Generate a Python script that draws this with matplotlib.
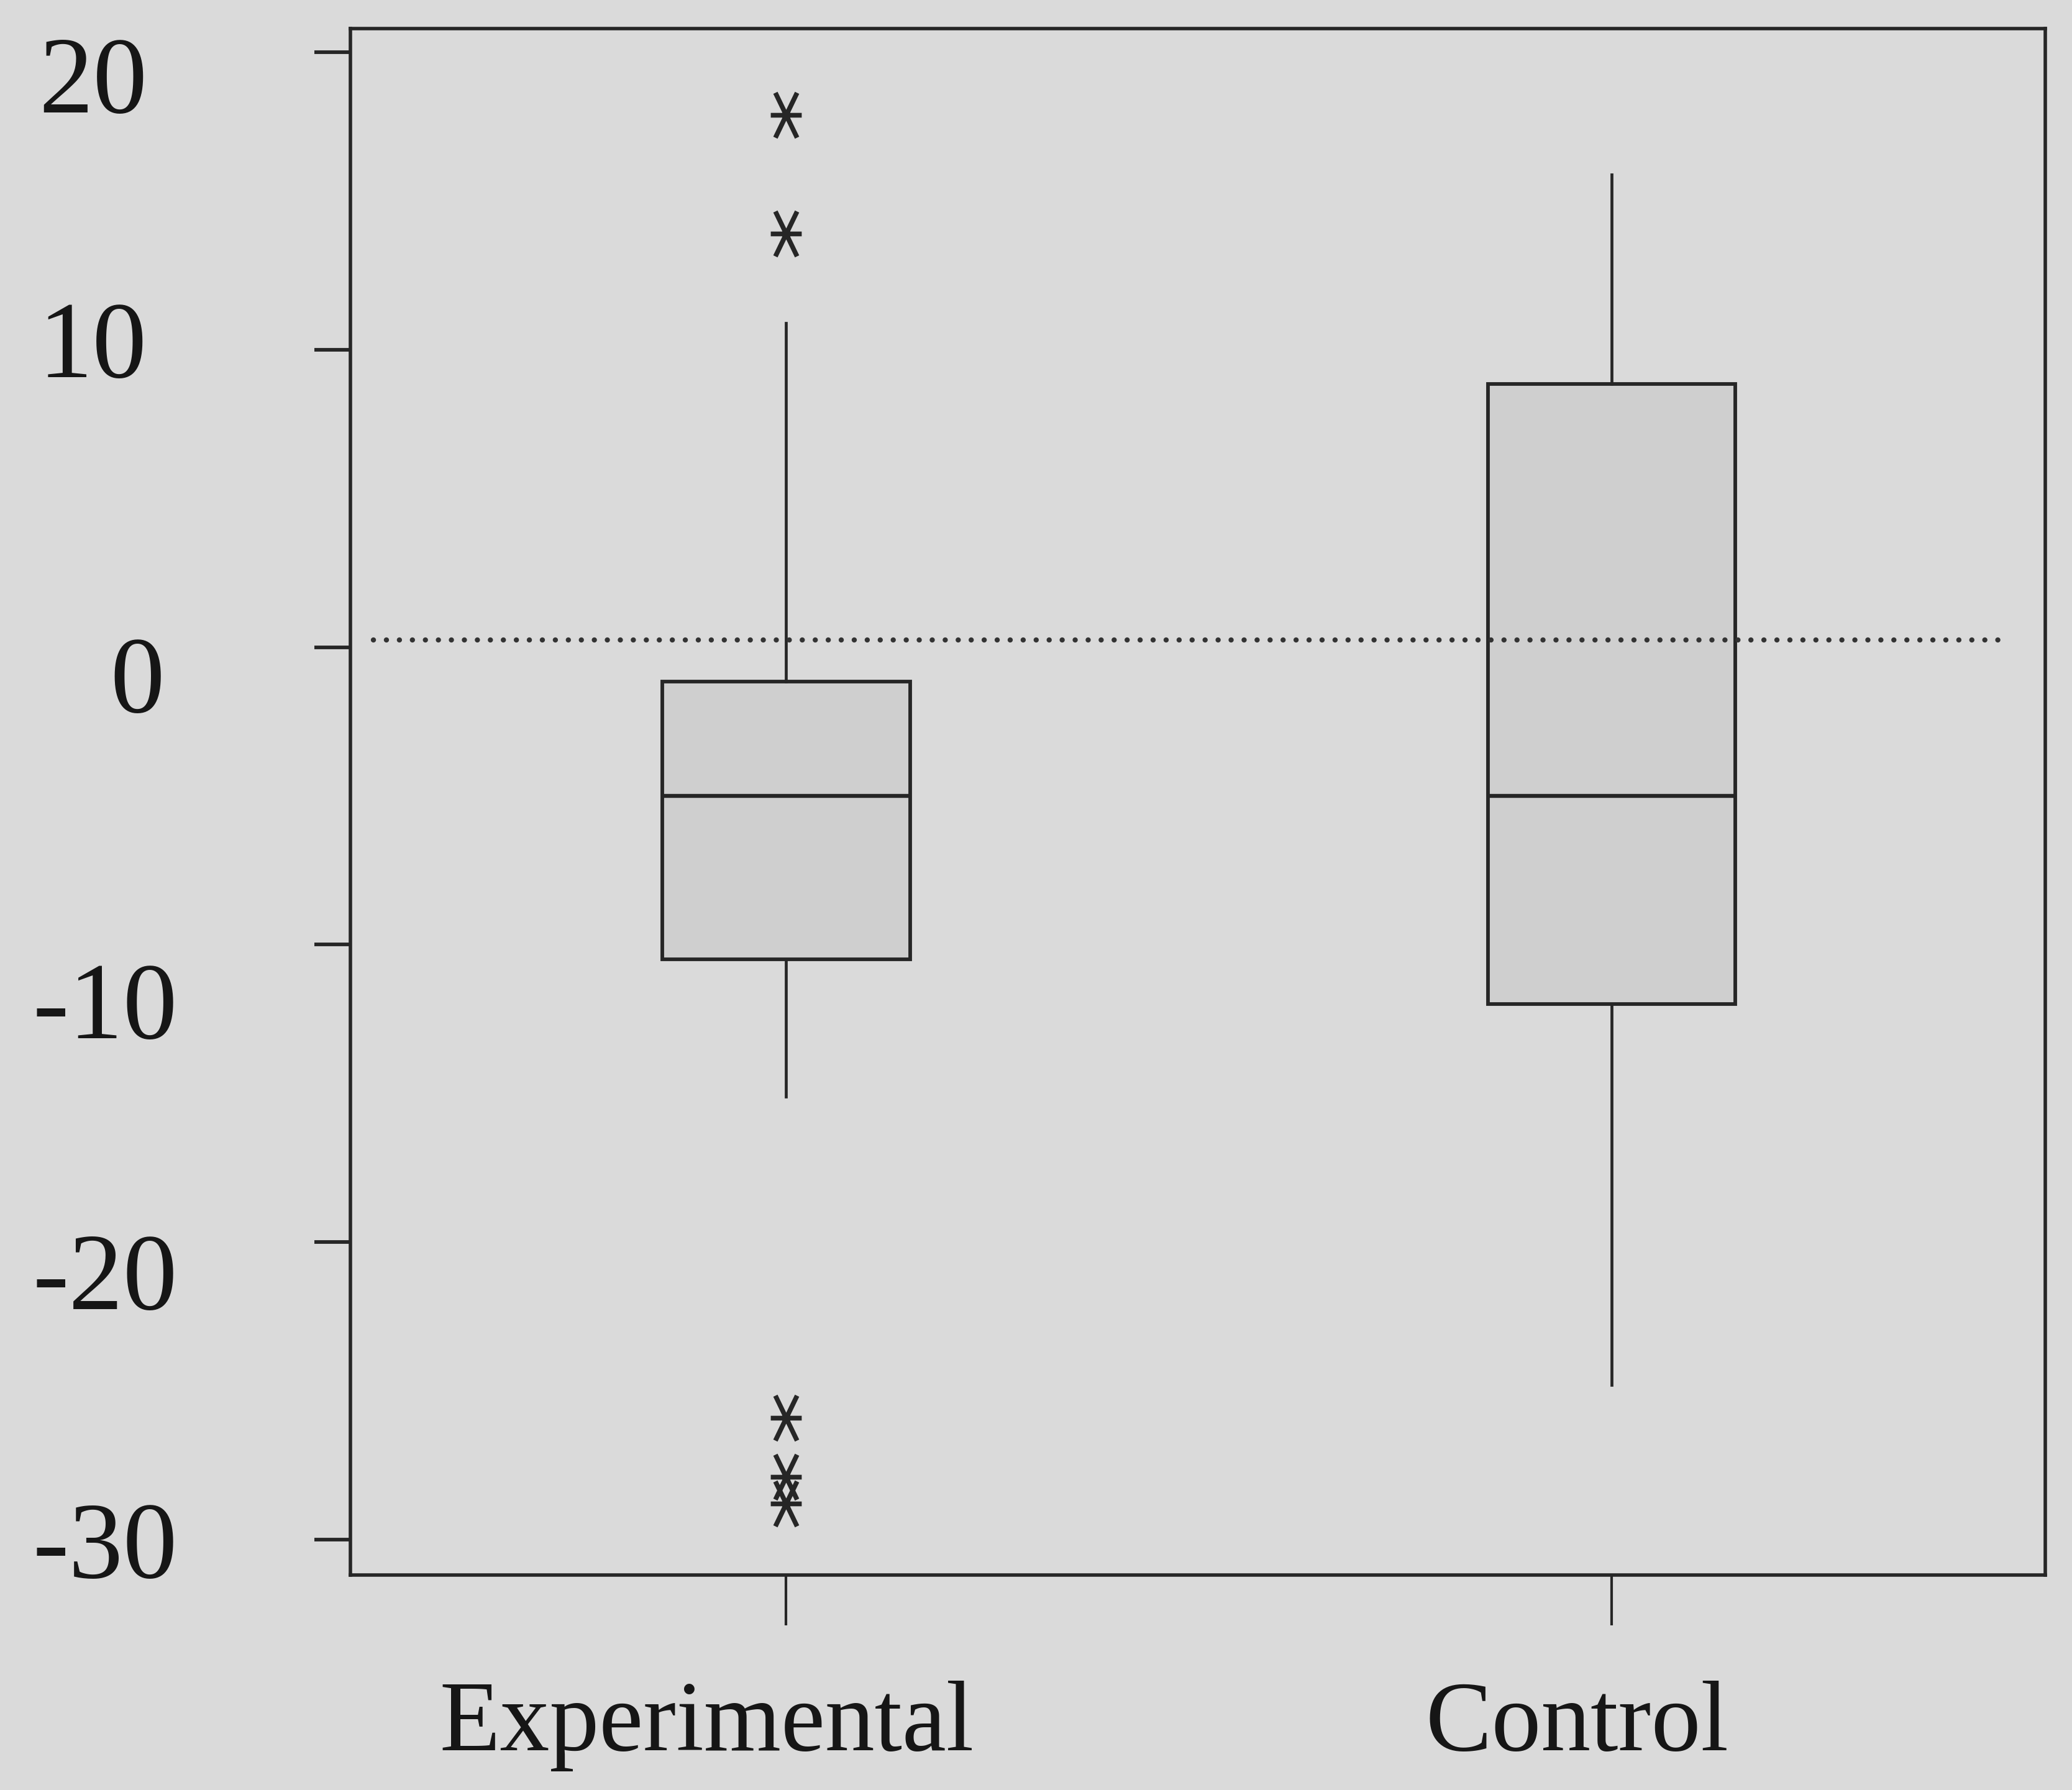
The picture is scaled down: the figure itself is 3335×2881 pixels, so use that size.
"""
Box plot of score change: Experimental vs Control group
"""

import matplotlib
matplotlib.use('Agg')
import matplotlib.pyplot as plt
import matplotlib.transforms as mtransforms
from matplotlib.path import Path

# Data
groups = ['Experimental', 'Control']
q1 = [-10.5, -12.0]
median = [-5.0, -5.0]
q3 = [-1.15, 8.85]
whisker_low = [-15.1, -24.8]
whisker_high = [10.9, 15.9]
outliers = [[17.9, 13.9, -25.9, -27.9, -28.8], []]
reference_level = 0.25

y_ticks = [20, 10, 0, -10, -20, -30]

BG = '#dadada'
BOX_FILL = '#cfcfcf'
INK = '#262626'
TEXT = '#161616'

# asterisk marker: horizontal bar plus two steep diagonals
star = Path(
    [(-1, 0), (1, 0), (-0.7, 1.45), (0.7, -1.45), (0.7, 1.45), (-0.7, -1.45)],
    [Path.MOVETO, Path.LINETO, Path.MOVETO, Path.LINETO, Path.MOVETO, Path.LINETO],
)

plt.rcParams['font.family'] = ['Liberation Serif', 'DejaVu Serif']

fig = plt.figure(figsize=(33.35, 28.81), dpi=100, facecolor=BG)
ax = fig.add_axes([0.169, 0.120, 0.818, 0.864], facecolor=BG)

stats = []
for i, name in enumerate(groups):
    stats.append({
        'label': name,
        'q1': q1[i], 'med': median[i], 'q3': q3[i],
        'whislo': whisker_low[i], 'whishi': whisker_high[i],
        'fliers': outliers[i],
    })

ax.bxp(
    stats, positions=[1, 2], widths=0.30, patch_artist=True, showcaps=False,
    boxprops=dict(facecolor=BOX_FILL, edgecolor=INK, linewidth=4.2),
    medianprops=dict(color=INK, linewidth=4.6),
    whiskerprops=dict(color=INK, linewidth=3.4),
    flierprops=dict(marker=star, markersize=52, markeredgecolor=INK,
                    markerfacecolor='none', markeredgewidth=5.5, linestyle='none'),
)

dots = ax.hlines(reference_level, 0.50, 2.475, colors='#333333', linewidth=6.0,
                 linestyles=(0, (0.01, 2.5)))
dots.set_capstyle('round')

ax.set_xlim(0.472, 2.525)
ax.set_ylim(-31.2, 20.8)
ax.set_yticks(y_ticks)
ax.set_yticklabels([str(t) for t in y_ticks])

for side in ax.spines.values():
    side.set_linewidth(4.0)
    side.set_color(INK)

ax.tick_params(axis='y', direction='out', length=42, width=4.2, color=INK,
               pad=158, labelsize=126, labelcolor=TEXT)
ax.tick_params(axis='x', direction='out', length=58, width=3.0, color=INK,
               pad=64, labelsize=115, labelcolor=TEXT)

# nudge labels to where the printed original put them (px)
x_shift = {'Experimental': -128, 'Control': -56}
for lab in ax.get_xticklabels():
    dx = x_shift.get(lab.get_text(), 0)
    lab.set_transform(lab.get_transform() + mtransforms.ScaledTranslation(dx / 100, 0, fig.dpi_scale_trans))

y_shift = {'20': (-49, -36), '10': (-49, 17), '0': (-21, -43),
           '-10': (0, -90), '-20': (0, -47), '-30': (0, 0)}
for lab in ax.get_yticklabels():
    dx, dy = y_shift.get(lab.get_text(), (0, 0))
    lab.set_transform(lab.get_transform() + mtransforms.ScaledTranslation(dx / 100, dy / 100, fig.dpi_scale_trans))

fig.savefig('out.png', dpi=100, facecolor=BG)
